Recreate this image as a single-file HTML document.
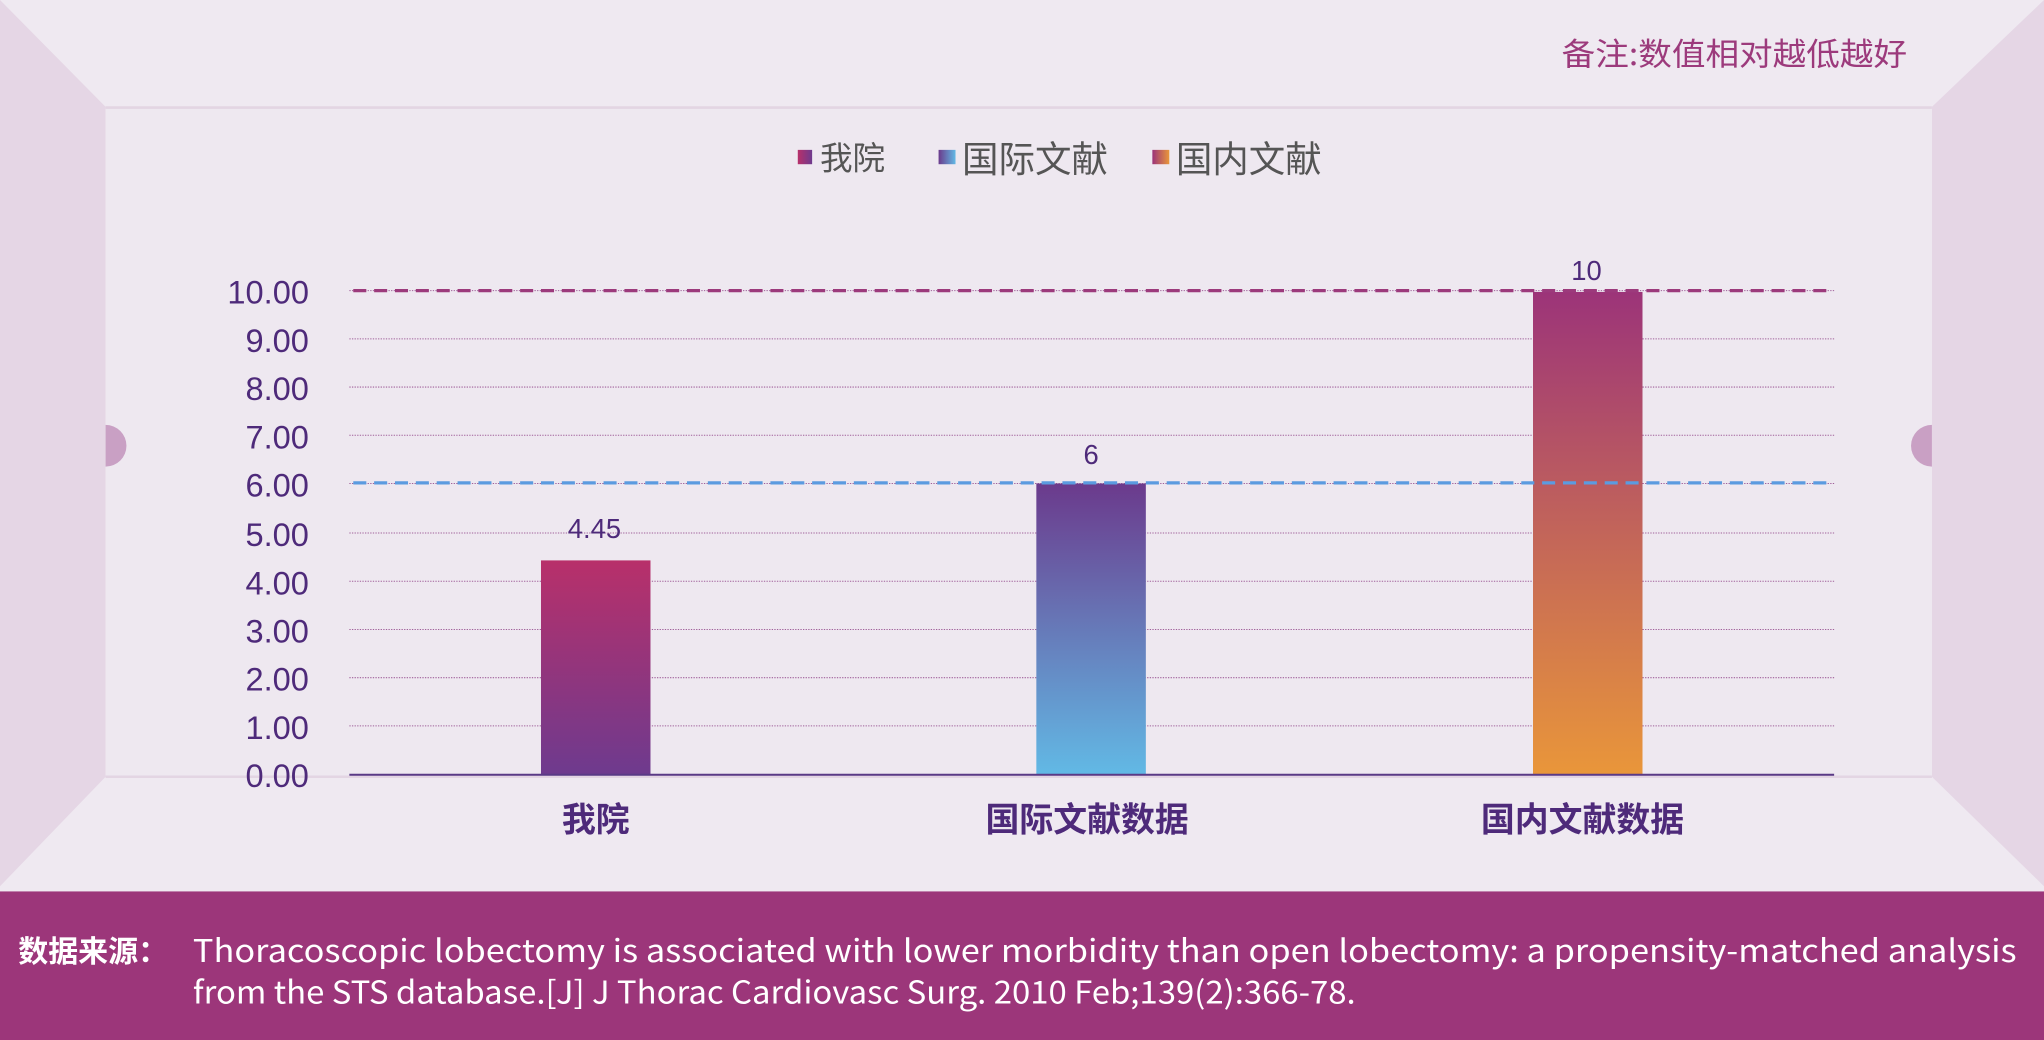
<!DOCTYPE html>
<html><head><meta charset="utf-8"><style>
html,body{margin:0;padding:0;background:#eee8f0;}
svg{display:block;}
text{font-family:"Liberation Sans","Noto Sans CJK SC",sans-serif;}
.cjk{font-family:"Noto Sans CJK SC","Liberation Sans",sans-serif;}
</style></head><body>
<svg width="2044" height="1040" viewBox="0 0 1568 798" preserveAspectRatio="none" xmlns="http://www.w3.org/2000/svg">
<defs>
<linearGradient id="g1" x1="0" y1="0" x2="0" y2="1"><stop offset="0" stop-color="#b8306a"/><stop offset="1" stop-color="#6e3a8e"/></linearGradient>
<linearGradient id="g2" x1="0" y1="0" x2="0" y2="1"><stop offset="0" stop-color="#6b3a8c"/><stop offset="1" stop-color="#62b9e5"/></linearGradient>
<linearGradient id="g3" x1="0" y1="0" x2="0" y2="1"><stop offset="0" stop-color="#9c3479"/><stop offset="1" stop-color="#e9963a"/></linearGradient>
<linearGradient id="l1" x1="0" y1="0" x2="1" y2="0"><stop offset="0" stop-color="#b8306a"/><stop offset="1" stop-color="#6e3a8e"/></linearGradient>
<linearGradient id="l2" x1="0" y1="0" x2="1" y2="0"><stop offset="0" stop-color="#6b3a8c"/><stop offset="1" stop-color="#62b9e5"/></linearGradient>
<linearGradient id="l3" x1="0" y1="0" x2="1" y2="0"><stop offset="0" stop-color="#9c3479"/><stop offset="1" stop-color="#e9963a"/></linearGradient>
</defs>
<rect width="1568" height="798" fill="#efe9f1"/>
<polygon points="0,0 81,82 81,596 0,680" fill="#e5d6e5"/>
<polygon points="1568,0 1482,82 1482,596 1568,680" fill="#e5d6e5"/>
<rect x="81" y="82" width="1401" height="514" fill="#eee8f0"/>
<line x1="81" y1="82.5" x2="1482" y2="82.5" stroke="#e3d5e3" stroke-width="2"/>
<line x1="81" y1="596" x2="1482" y2="596" stroke="#e3d5e3" stroke-width="2"/>
<path d="M81,326 a16,16 0 0 1 0,32 z" fill="#c9a0c4"/>
<path d="M1482,326 a16,16 0 0 0 0,32 z" fill="#c9a0c4"/>
<text x="1463" y="50" text-anchor="end" font-size="24" fill="#9c3a7c" class="cjk" textLength="265" lengthAdjust="spacingAndGlyphs">备注:数值相对越低越好</text>
<rect x="612" y="115" width="11" height="11" fill="url(#l1)"/>
<text x="629" y="130" font-size="25" fill="#555" class="cjk">我院</text>
<rect x="720" y="115" width="13" height="11" fill="url(#l2)"/>
<text x="738" y="132" font-size="28" fill="#555" class="cjk">国际文献</text>
<rect x="884" y="115" width="13" height="11" fill="url(#l3)"/>
<text x="902" y="132" font-size="28" fill="#555" class="cjk">国内文献</text>
<g stroke="#a0609a" stroke-width="0.8" stroke-dasharray="1,1">
<line x1="268" y1="260" x2="1407" y2="260"/><line x1="268" y1="297" x2="1407" y2="297"/>
<line x1="268" y1="334" x2="1407" y2="334"/><line x1="268" y1="371" x2="1407" y2="371"/>
<line x1="268" y1="409" x2="1407" y2="409"/><line x1="268" y1="446" x2="1407" y2="446"/>
<line x1="268" y1="483" x2="1407" y2="483"/><line x1="268" y1="520" x2="1407" y2="520"/>
<line x1="268" y1="557" x2="1407" y2="557"/><line x1="268" y1="223" x2="1407" y2="223"/>
</g>
<rect x="415" y="430" width="84" height="164" fill="url(#g1)"/>
<rect x="795" y="371" width="84" height="223" fill="url(#g2)"/>
<rect x="1176" y="224" width="84" height="370" fill="url(#g3)"/>
<line x1="271" y1="223" x2="1407" y2="223" stroke="#9c3a7c" stroke-width="2.5" stroke-dasharray="10,6"/>
<line x1="271" y1="370.5" x2="1407" y2="370.5" stroke="#5b9be0" stroke-width="2.5" stroke-dasharray="10,6"/>
<line x1="268" y1="594.5" x2="1407" y2="594.5" stroke="#5a3a86" stroke-width="1.5"/>
<g font-size="25" fill="#4e2a7a" text-anchor="end" class="cjk">
<text x="237" y="233">10.00</text><text x="237" y="270">9.00</text><text x="237" y="307">8.00</text>
<text x="237" y="344">7.00</text><text x="237" y="381">6.00</text><text x="237" y="419">5.00</text>
<text x="237" y="456">4.00</text><text x="237" y="493">3.00</text><text x="237" y="530">2.00</text>
<text x="237" y="567">1.00</text><text x="237" y="604">0.00</text>
</g>
<g font-size="21" fill="#4e2a7a" text-anchor="middle" class="cjk">
<text x="456" y="413">4.45</text><text x="837" y="356">6</text><text x="1217" y="215">10</text>
</g>
<g font-size="26" font-weight="bold" fill="#4e2a7a" text-anchor="middle" class="cjk">
<text x="457" y="638">我院</text><text x="834" y="638">国际文献数据</text><text x="1214" y="638">国内文献数据</text>
</g>
<rect x="0" y="684" width="1568" height="114" fill="#9c367a"/>
<text x="14" y="738" font-size="23" font-weight="bold" fill="#fff" class="cjk">数据来源：</text>
<text x="148" y="738" font-size="24" fill="#fff" class="cjk" textLength="1399" lengthAdjust="spacingAndGlyphs">Thoracoscopic lobectomy is associated with lower morbidity than open lobectomy: a propensity-matched analysis</text>
<text x="148" y="770" font-size="24" fill="#fff" class="cjk" textLength="892" lengthAdjust="spacingAndGlyphs">from the STS database.[J] J Thorac Cardiovasc Surg. 2010 Feb;139(2):366-78.</text>
</svg>
</body></html>
